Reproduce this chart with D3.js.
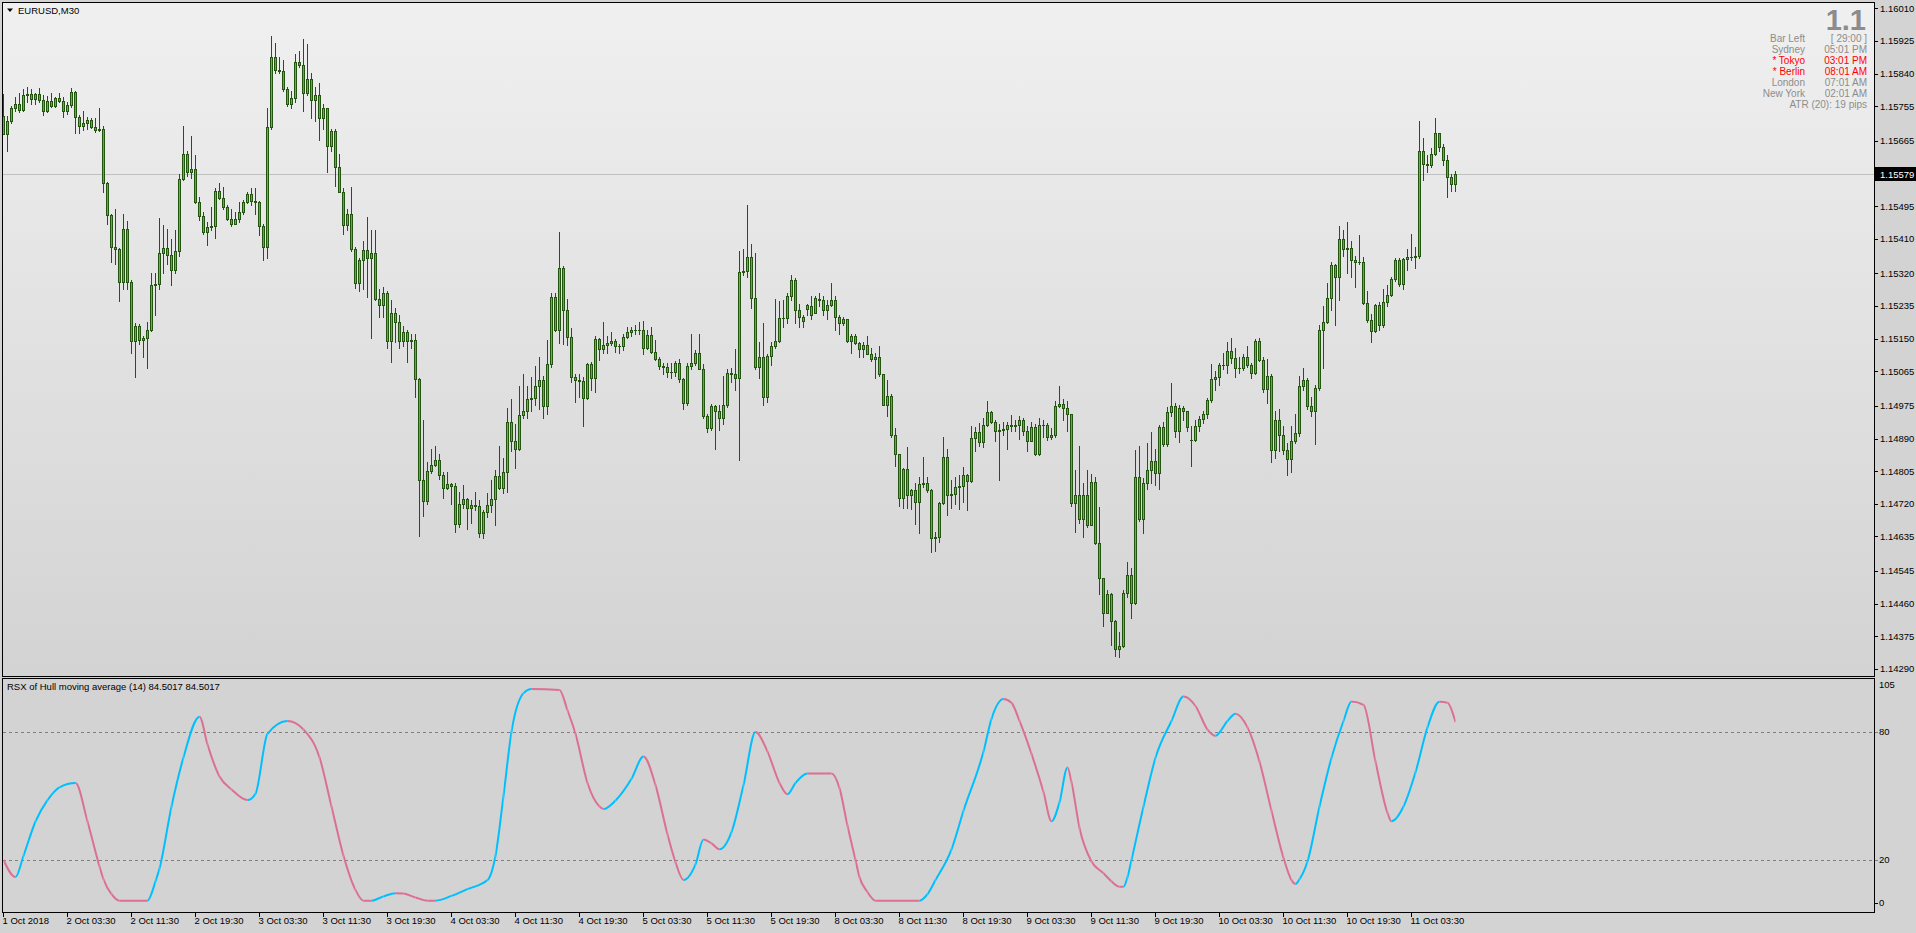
<!DOCTYPE html>
<html><head><meta charset="utf-8">
<script src="https://cdn.jsdelivr.net/npm/d3@7"></script>
<style>
html,body{margin:0;padding:0;background:#d3d3d3;overflow:hidden}
svg{display:block}
text{font-family:"Liberation Sans",Arial,sans-serif}
</style></head><body>
<svg id="c" width="1916" height="933"></svg>
<script>
// ---------------- DATA ----------------
const symbolTitle = "EURUSD,M30";
const opens = [
1.15730,1.15684,1.15717,1.15750,1.15761,1.15746,1.15785,1.15787,1.15775,1.15787,
1.15772,1.15744,1.15769,1.15757,1.15776,1.15770,1.15744,1.15758,1.15792,1.15728,
1.15705,1.15711,1.15720,1.15702,1.15694,1.15696,1.15555,1.15472,1.15390,1.15383,
1.15297,1.15437,1.15297,1.15144,1.15182,1.15147,1.15153,1.15172,1.15290,1.15292,
1.15372,1.15385,1.15368,1.15328,1.15379,1.15566,1.15631,1.15585,1.15593,1.15505,
1.15470,1.15427,1.15440,1.15443,1.15535,1.15517,1.15494,1.15463,1.15449,1.15463,
1.15479,1.15506,1.15527,1.15509,1.15505,1.15443,1.15390,1.15701,1.15884,1.15851,
1.15846,1.15801,1.15761,1.15777,1.15870,1.15862,1.15791,1.15827,1.15772,1.15785,
1.15725,1.15750,1.15651,1.15690,1.15596,1.15533,1.15445,1.15476,1.15383,1.15295,
1.15355,1.15380,1.15361,1.15372,1.15254,1.15237,1.15268,1.15145,1.15218,1.15193,
1.15145,1.15167,1.15145,1.15147,1.15045,1.14782,1.14727,1.14805,1.14820,1.14835,
1.14796,1.14761,1.14771,1.14766,1.14667,1.14720,1.14733,1.14709,1.14717,1.14714,
1.14643,1.14698,1.14717,1.14733,1.14793,1.14761,1.14802,1.14933,1.14884,1.14862,
1.14952,1.14963,1.14994,1.14996,1.15026,1.15043,1.14974,1.15083,1.15259,1.15174,
1.15335,1.15224,1.15155,1.15051,1.15043,1.15040,1.14996,1.15083,1.15048,1.15149,
1.15123,1.15134,1.15140,1.15144,1.15132,1.15131,1.15155,1.15167,1.15173,1.15172,
1.15174,1.15127,1.15160,1.15116,1.15097,1.15079,1.15076,1.15064,1.15063,1.15087,
1.15045,1.14983,1.15079,1.15087,1.15114,1.15072,1.14950,1.14917,1.14974,1.14961,
1.14943,1.14977,1.15061,1.15059,1.15048,1.15324,1.15326,1.15363,1.15256,1.15076,
1.15103,1.14999,1.15106,1.15131,1.15145,1.15205,1.15204,1.15262,1.15303,1.15226,
1.15207,1.15228,1.15235,1.15218,1.15254,1.15251,1.15226,1.15239,1.15251,1.15206,
1.15191,1.15202,1.15144,1.15156,1.15138,1.15122,1.15134,1.15111,1.15096,1.15103,
1.15057,1.14978,1.15002,1.14900,1.14849,1.14736,1.14811,1.14742,1.14755,1.14725,
1.14771,1.14774,1.14755,1.14630,1.14634,1.14722,1.14843,1.14742,1.14745,1.14763,
1.14766,1.14794,1.14779,1.14892,1.14906,1.14882,1.14926,1.14959,1.14933,1.14911,
1.14912,1.14914,1.14925,1.14923,1.14926,1.14938,1.14911,1.14884,1.14919,1.14851,
1.14925,1.14926,1.14895,1.14900,1.14974,1.14980,1.14969,1.14953,1.14722,1.14744,
1.14681,1.14742,1.14665,1.14777,1.14618,1.14526,1.14437,1.14486,1.14415,1.14341,
1.14350,1.14489,1.14535,1.14462,1.14789,1.14681,1.14774,1.14807,1.14832,1.14801,
1.14919,1.14875,1.14959,1.14974,1.14911,1.14969,1.14961,1.14887,1.14885,1.14922,
1.14942,1.14953,1.14990,1.15046,1.15051,1.15081,1.15082,1.15119,1.15100,1.15073,
1.15075,1.15103,1.15081,1.15062,1.15145,1.15094,1.15018,1.15054,1.14860,1.14939,
1.14898,1.14860,1.14837,1.14884,1.14904,1.15026,1.15043,1.14974,1.14963,1.15021,
1.15174,1.15194,1.15257,1.15342,1.15311,1.15410,1.15383,1.15386,1.15355,1.15349,
1.15351,1.15242,1.15199,1.15169,1.15237,1.15185,1.15246,1.15265,1.15306,1.15355,
1.15292,1.15357,1.15363,1.15362,1.15365,1.15640,1.15604,1.15602,1.15631,1.15686,
1.15648,1.15615,1.15572,1.15553];
const highs = [
1.15788,1.15730,1.15755,1.15779,1.15789,1.15800,1.15805,1.15800,1.15791,1.15802,
1.15785,1.15782,1.15789,1.15780,1.15789,1.15780,1.15767,1.15802,1.15794,1.15733,
1.15743,1.15727,1.15725,1.15724,1.15751,1.15704,1.15559,1.15476,1.15489,1.15386,
1.15476,1.15456,1.15302,1.15191,1.15189,1.15158,1.15193,1.15322,1.15322,1.15465,
1.15446,1.15437,1.15410,1.15432,1.15580,1.15704,1.15640,1.15679,1.15629,1.15520,
1.15481,1.15454,1.15492,1.15542,1.15555,1.15544,1.15498,1.15487,1.15481,1.15506,
1.15511,1.15531,1.15542,1.15542,1.15509,1.15449,1.15750,1.15939,1.15920,1.15884,
1.15876,1.15805,1.15794,1.15892,1.15898,1.15931,1.15918,1.15843,1.15805,1.15816,
1.15761,1.15752,1.15695,1.15695,1.15631,1.15542,1.15487,1.15544,1.15388,1.15361,
1.15405,1.15467,1.15434,1.15432,1.15279,1.15284,1.15273,1.15251,1.15229,1.15213,
1.15182,1.15174,1.15163,1.15163,1.15048,1.14939,1.14829,1.14862,1.14871,1.14851,
1.14804,1.14802,1.14774,1.14774,1.14752,1.14769,1.14736,1.14730,1.14752,1.14730,
1.14703,1.14749,1.14782,1.14807,1.14871,1.14840,1.14969,1.14994,1.14928,1.15026,
1.15059,1.15026,1.15051,1.15079,1.15103,1.15054,1.15147,1.15270,1.15268,1.15427,
1.15339,1.15253,1.15177,1.15059,1.15059,1.15051,1.15087,1.15089,1.15156,1.15153,
1.15193,1.15156,1.15167,1.15149,1.15136,1.15163,1.15180,1.15180,1.15185,1.15193,
1.15196,1.15174,1.15180,1.15147,1.15103,1.15087,1.15087,1.15087,1.15092,1.15098,
1.15048,1.15087,1.15163,1.15120,1.15163,1.15083,1.14955,1.14980,1.14977,1.14977,
1.15054,1.15072,1.15074,1.15123,1.15379,1.15383,1.15498,1.15396,1.15372,1.15142,
1.15191,1.15109,1.15142,1.15254,1.15248,1.15251,1.15268,1.15317,1.15309,1.15240,
1.15213,1.15240,1.15262,1.15262,1.15268,1.15262,1.15251,1.15295,1.15262,1.15213,
1.15207,1.15202,1.15163,1.15163,1.15142,1.15142,1.15158,1.15125,1.15114,1.15131,
1.15059,1.15043,1.15007,1.14917,1.14851,1.14813,1.14868,1.14758,1.14774,1.14791,
1.14842,1.14791,1.14758,1.14648,1.14725,1.14893,1.14862,1.14783,1.14791,1.14796,
1.14816,1.14799,1.14922,1.14919,1.14930,1.14944,1.14988,1.14963,1.14939,1.14928,
1.14933,1.14933,1.14952,1.14939,1.14950,1.14944,1.14922,1.14933,1.14928,1.14944,
1.14939,1.14930,1.14917,1.14988,1.15026,1.14994,1.14988,1.14955,1.14809,1.14871,
1.14774,1.14807,1.14799,1.14791,1.14712,1.14528,1.14495,1.14489,1.14418,1.14385,
1.14495,1.14568,1.14553,1.14860,1.14871,1.14788,1.14879,1.14906,1.14862,1.14926,
1.14933,1.14972,1.15035,1.14983,1.14977,1.14974,1.14963,1.14922,1.14939,1.14950,
1.14961,1.14996,1.15083,1.15065,1.15087,1.15114,1.15142,1.15153,1.15125,1.15103,
1.15109,1.15131,1.15087,1.15149,1.15153,1.15103,1.15098,1.15059,1.14961,1.14966,
1.14922,1.14879,1.14922,1.14955,1.15054,1.15073,1.15048,1.14999,1.15029,1.15185,
1.15235,1.15295,1.15350,1.15344,1.15443,1.15432,1.15454,1.15405,1.15366,1.15419,
1.15364,1.15273,1.15215,1.15240,1.15246,1.15279,1.15290,1.15311,1.15361,1.15361,
1.15361,1.15383,1.15423,1.15388,1.15717,1.15673,1.15629,1.15646,1.15726,1.15686,
1.15657,1.15629,1.15580,1.15588];
const lows = [
1.15682,1.15640,1.15713,1.15744,1.15741,1.15744,1.15767,1.15761,1.15761,1.15767,
1.15733,1.15740,1.15754,1.15754,1.15767,1.15727,1.15735,1.15754,1.15687,1.15687,
1.15694,1.15696,1.15699,1.15689,1.15691,1.15533,1.15448,1.15350,1.15344,1.15248,
1.15279,1.15279,1.15114,1.15051,1.15136,1.15103,1.15075,1.15169,1.15213,1.15279,
1.15322,1.15344,1.15290,1.15322,1.15366,1.15564,1.15574,1.15569,1.15503,1.15459,
1.15423,1.15394,1.15432,1.15412,1.15514,1.15487,1.15459,1.15443,1.15449,1.15454,
1.15476,1.15503,1.15498,1.15476,1.15421,1.15355,1.15361,1.15695,1.15843,1.15843,
1.15794,1.15755,1.15750,1.15766,1.15857,1.15744,1.15785,1.15725,1.15717,1.15668,
1.15695,1.15585,1.15640,1.15547,1.15531,1.15423,1.15432,1.15379,1.15281,1.15273,
1.15279,1.15259,1.15153,1.15251,1.15207,1.15207,1.15127,1.15090,1.15142,1.15125,
1.15131,1.15090,1.15125,1.14999,1.14637,1.14689,1.14720,1.14800,1.14818,1.14785,
1.14736,1.14758,1.14720,1.14648,1.14659,1.14709,1.14654,1.14670,1.14703,1.14634,
1.14630,1.14687,1.14698,1.14665,1.14758,1.14747,1.14752,1.14857,1.14813,1.14860,
1.14944,1.14944,1.14961,1.14977,1.14966,1.14944,1.14955,1.15076,1.15169,1.15138,
1.15136,1.15134,1.15037,1.14985,1.14999,1.14922,1.14994,1.15016,1.15010,1.15094,
1.15114,1.15114,1.15134,1.15116,1.15114,1.15120,1.15153,1.15158,1.15163,1.15163,
1.15109,1.15123,1.15114,1.15094,1.15070,1.15059,1.15051,1.15048,1.15054,1.15037,
1.14966,1.14977,1.15070,1.15081,1.15070,1.14944,1.14908,1.14912,1.14864,1.14912,
1.14928,1.14972,1.15037,1.15016,1.14835,1.15317,1.15311,1.15229,1.15072,1.15048,
1.14977,1.14985,1.15081,1.15125,1.15142,1.15180,1.15191,1.15251,1.15191,1.15180,
1.15180,1.15213,1.15202,1.15216,1.15235,1.15213,1.15202,1.15235,1.15174,1.15163,
1.15185,1.15142,1.15114,1.15136,1.15103,1.15103,1.15109,1.15092,1.15048,1.15054,
1.14977,1.14948,1.14895,1.14818,1.14714,1.14709,1.14709,1.14706,1.14667,1.14645,
1.14763,1.14750,1.14594,1.14597,1.14621,1.14720,1.14692,1.14709,1.14720,1.14706,
1.14725,1.14705,1.14777,1.14857,1.14871,1.14868,1.14922,1.14930,1.14884,1.14782,
1.14900,1.14862,1.14911,1.14911,1.14890,1.14900,1.14857,1.14884,1.14846,1.14846,
1.14895,1.14886,1.14889,1.14895,1.14972,1.14939,1.14911,1.14714,1.14648,1.14670,
1.14634,1.14659,1.14665,1.14615,1.14484,1.14402,1.14435,1.14352,1.14325,1.14320,
1.14347,1.14478,1.14424,1.14459,1.14676,1.14643,1.14758,1.14774,1.14769,1.14758,
1.14871,1.14871,1.14950,1.14895,1.14881,1.14939,1.14911,1.14818,1.14884,1.14911,
1.14930,1.14944,1.14985,1.15016,1.15029,1.15070,1.15062,1.15087,1.15051,1.15062,
1.15068,1.15076,1.15048,1.15059,1.15092,1.15010,1.14983,1.14829,1.14840,1.14857,
1.14851,1.14796,1.14802,1.14879,1.14897,1.15016,1.14966,1.14950,1.14875,1.15016,
1.15073,1.15191,1.15224,1.15185,1.15251,1.15366,1.15322,1.15311,1.15284,1.15344,
1.15240,1.15193,1.15142,1.15167,1.15174,1.15180,1.15235,1.15262,1.15300,1.15287,
1.15279,1.15330,1.15355,1.15333,1.15361,1.15564,1.15585,1.15596,1.15629,1.15640,
1.15602,1.15520,1.15536,1.15536];
const closes = [
1.15684,1.15717,1.15750,1.15761,1.15746,1.15785,1.15787,1.15775,1.15787,1.15772,
1.15744,1.15769,1.15757,1.15776,1.15770,1.15744,1.15758,1.15792,1.15728,1.15705,
1.15711,1.15720,1.15702,1.15694,1.15696,1.15555,1.15472,1.15390,1.15383,1.15297,
1.15437,1.15297,1.15144,1.15182,1.15147,1.15153,1.15172,1.15290,1.15292,1.15372,
1.15385,1.15368,1.15328,1.15379,1.15566,1.15631,1.15585,1.15593,1.15505,1.15470,
1.15427,1.15440,1.15443,1.15535,1.15517,1.15494,1.15463,1.15449,1.15463,1.15479,
1.15506,1.15527,1.15509,1.15505,1.15443,1.15390,1.15701,1.15884,1.15851,1.15846,
1.15801,1.15761,1.15777,1.15870,1.15862,1.15791,1.15827,1.15772,1.15785,1.15725,
1.15750,1.15651,1.15690,1.15596,1.15533,1.15445,1.15476,1.15383,1.15295,1.15355,
1.15380,1.15361,1.15372,1.15254,1.15237,1.15268,1.15145,1.15218,1.15193,1.15145,
1.15167,1.15145,1.15147,1.15045,1.14782,1.14727,1.14805,1.14820,1.14835,1.14796,
1.14761,1.14771,1.14766,1.14667,1.14720,1.14733,1.14709,1.14717,1.14714,1.14643,
1.14698,1.14717,1.14733,1.14793,1.14761,1.14802,1.14933,1.14884,1.14862,1.14952,
1.14963,1.14994,1.14996,1.15026,1.15043,1.14974,1.15083,1.15259,1.15174,1.15335,
1.15224,1.15155,1.15051,1.15043,1.15040,1.14996,1.15083,1.15048,1.15149,1.15123,
1.15134,1.15140,1.15144,1.15132,1.15131,1.15155,1.15167,1.15173,1.15172,1.15174,
1.15127,1.15160,1.15116,1.15097,1.15079,1.15076,1.15064,1.15063,1.15087,1.15045,
1.14983,1.15079,1.15087,1.15114,1.15072,1.14950,1.14917,1.14974,1.14961,1.14943,
1.14977,1.15061,1.15059,1.15048,1.15324,1.15326,1.15363,1.15256,1.15076,1.15103,
1.14999,1.15106,1.15131,1.15145,1.15205,1.15204,1.15262,1.15303,1.15226,1.15207,
1.15195,1.15237,1.15213,1.15257,1.15251,1.15226,1.15239,1.15251,1.15206,1.15191,
1.15202,1.15144,1.15156,1.15138,1.15122,1.15134,1.15111,1.15096,1.15103,1.15057,
1.14978,1.15002,1.14900,1.14849,1.14736,1.14811,1.14742,1.14755,1.14725,1.14771,
1.14774,1.14755,1.14630,1.14634,1.14722,1.14843,1.14742,1.14745,1.14763,1.14766,
1.14794,1.14779,1.14892,1.14906,1.14882,1.14926,1.14959,1.14933,1.14911,1.14912,
1.14914,1.14925,1.14923,1.14926,1.14938,1.14911,1.14884,1.14919,1.14851,1.14925,
1.14926,1.14895,1.14900,1.14974,1.14980,1.14969,1.14953,1.14722,1.14744,1.14681,
1.14742,1.14665,1.14777,1.14618,1.14526,1.14437,1.14486,1.14415,1.14341,1.14350,
1.14489,1.14535,1.14462,1.14789,1.14681,1.14774,1.14807,1.14832,1.14801,1.14919,
1.14875,1.14959,1.14974,1.14911,1.14969,1.14961,1.14919,1.14885,1.14922,1.14942,
1.14953,1.14990,1.15046,1.15051,1.15081,1.15082,1.15119,1.15100,1.15073,1.15075,
1.15103,1.15081,1.15062,1.15145,1.15094,1.15018,1.15054,1.14860,1.14939,1.14898,
1.14860,1.14837,1.14884,1.14904,1.15026,1.15043,1.14974,1.14963,1.15021,1.15174,
1.15194,1.15257,1.15342,1.15311,1.15410,1.15383,1.15386,1.15355,1.15349,1.15351,
1.15242,1.15199,1.15169,1.15237,1.15185,1.15246,1.15265,1.15306,1.15355,1.15292,
1.15357,1.15363,1.15362,1.15365,1.15640,1.15604,1.15602,1.15631,1.15686,1.15648,
1.15615,1.15572,1.15553,1.15579];

const timeTickBars = [0,16,32,48,64,80,96,112,128,144,160,176,192,208,224,240,256,272,288,304,320,336,352];
const timeTickLabels = ["1 Oct 2018","2 Oct 03:30","2 Oct 11:30","2 Oct 19:30","3 Oct 03:30","3 Oct 11:30",
  "3 Oct 19:30","4 Oct 03:30","4 Oct 11:30","4 Oct 19:30","5 Oct 03:30","5 Oct 11:30","5 Oct 19:30",
  "8 Oct 03:30","8 Oct 11:30","8 Oct 19:30","9 Oct 03:30","9 Oct 11:30","9 Oct 19:30","10 Oct 03:30",
  "10 Oct 11:30","10 Oct 19:30","11 Oct 03:30"];
const priceTickValues = [1.16010,1.15925,1.15840,1.15755,1.15665,1.15495,1.15410,1.15320,1.15235,1.15150,
  1.15065,1.14975,1.14890,1.14805,1.14720,1.14635,1.14545,1.14460,1.14375,1.14290];
const lastPrice = 1.15579;

const rsxBars = [0,3,5,8,11,14,18,21,24,25,27,29,36,38,39,42,45,49,51,54,57,61,63,66,71,75,79,82,85,88,
  90,92,95,98,100,103,106,108,112,116,121,123,125,127,130,132,139,141,143,146,149,150,153,157,160,163,166,168,170,173,
  175,177,179,182,185,188,191,194,196,198,201,207,209,211,213,214,216,218,229,231,233,237,240,245,247,250,252,254,257,260,
  262,264,266,267,269,272,275,277,279,280,281,282,285,288,292,295,298,301,303,306,308,311,314,317,320,322,323,324,326,329,
  332,335,337,340,343,346,347,350,353,356,359,361,363];
const rsxValues = [20,12,22,38,48,54,56,38,17,11,4,1,1,10,16,45,68,87,74,59,53,48,51,79,85,81,68,45,22,6,
  1,1,3,4.5,4.3,2.5,1,1,3.2,6.4,10.6,22,50,80,98,100,99.5,90,79,56,45,43.8,47.8,58,68.4,55,32,19,10.7,18,
  29.6,27.8,25,33,55,79.8,70.7,56,50.7,56,60.4,60.4,53.6,36,20,12,5,1,1,4,10.6,25,43,70.7,86,95.3,93.5,85,69.6,51.8,
  38.1,47,63.3,56.4,35,19.3,13.8,10,7.5,7.5,12,20,45,67.8,85,96.4,92,81,78.1,85,88.4,82,66,43,21,10.6,8.8,11,19.3,45,
  67.8,85,94.1,92.5,66,42,38.1,45,61,82,94,93.5,84.5];
const rsxLevels = [80, 20];
const rsxAxisLabels = [105, 80, 20, 0];
const rsxTitle = "RSX of Hull moving average (14) 84.5017 84.5017";

const infoLabels = ["Bar Left","Sydney","* Tokyo","* Berlin","London","New York"];
const infoValues = ["[ 29:00 ]","05:01 PM","03:01 PM","08:01 AM","07:01 AM","02:01 AM"];
const infoHighlight = [false,false,true,true,false,false];
const atrText = "ATR (20): 19 pips";
const bigLabel = "1.1";

// ---------------- LAYOUT ----------------
const svg = d3.select("#c");
const MAIN = {l:2, t:2, r:1874, b:676};
const SUB = {l:2, t:678, r:1874, b:912};
const x = d3.scaleLinear().domain([0, 467]).range([3.5, 3.5 + 467 * 4]);
const y = d3.scaleLinear().domain([1.142717, 1.160269]).range([MAIN.b, MAIN.t]);
const yr = d3.scaleLinear().domain([-4.5, 105]).range([912.4, 678.2]);

const defs = svg.append("defs");
const grad = defs.append("linearGradient").attr("id","mainBg").attr("x1",0).attr("y1",0).attr("x2",0).attr("y2",1);
grad.append("stop").attr("offset","0%").attr("stop-color","#f0f0f0");
grad.append("stop").attr("offset","100%").attr("stop-color","#d3d3d3");
defs.append("clipPath").attr("id","clipMain").append("rect")
  .attr("x",MAIN.l+1).attr("y",MAIN.t+1).attr("width",MAIN.r-MAIN.l-1).attr("height",MAIN.b-MAIN.t-1);
defs.append("clipPath").attr("id","clipSub").append("rect")
  .attr("x",SUB.l+1).attr("y",SUB.t+1).attr("width",SUB.r-SUB.l-1).attr("height",SUB.b-SUB.t-1);

svg.append("rect").attr("width",1916).attr("height",933).attr("fill","#d3d3d3");
svg.append("rect").attr("x",MAIN.l).attr("y",MAIN.t).attr("width",MAIN.r-MAIN.l).attr("height",MAIN.b-MAIN.t).attr("fill","url(#mainBg)");
svg.append("rect").attr("x",SUB.l).attr("y",SUB.t).attr("width",SUB.r-SUB.l).attr("height",SUB.b-SUB.t).attr("fill","#d3d3d3");

// current price line
const gMain = svg.append("g").attr("clip-path","url(#clipMain)");
const yLast = Math.round(y(lastPrice)) + 0.5;
gMain.append("line").attr("x1",MAIN.l).attr("x2",MAIN.r).attr("y1",yLast).attr("y2",yLast)
  .attr("stroke","#c0c0c0").attr("stroke-width",1);

// candles
const WICK = "#22560f", BULL = "#3ccf2e", BEAR = "#e26a4c";
const idx = d3.range(opens.length);
gMain.selectAll("line.wick").data(idx).join("line").attr("class","wick")
  .attr("x1",i=>x(i)).attr("x2",i=>x(i))
  .attr("y1",i=>Math.round(y(highs[i]))).attr("y2",i=>Math.round(y(lows[i]))+1)
  .attr("stroke",WICK).attr("stroke-width",1);
const bodies = idx.map(i => {
  const top = Math.round(y(Math.max(opens[i],closes[i])));
  const bot = Math.round(y(Math.min(opens[i],closes[i])));
  return {i, top, bot, bull: closes[i] >= opens[i]};
});
gMain.selectAll("rect.body").data(bodies.filter(d=>d.bot-d.top>=1)).join("rect").attr("class","body")
  .attr("x",d=>x(d.i)-1).attr("width",2)
  .attr("y",d=>d.top+0.5).attr("height",d=>d.bot-d.top)
  .attr("fill",d=>d.bull?BULL:BEAR).attr("stroke",WICK).attr("stroke-width",1);
gMain.selectAll("line.doji").data(bodies.filter(d=>d.bot-d.top<1)).join("line").attr("class","doji")
  .attr("x1",d=>x(d.i)-1.5).attr("x2",d=>x(d.i)+1.5)
  .attr("y1",d=>d.top+0.5).attr("y2",d=>d.top+0.5)
  .attr("stroke",WICK).attr("stroke-width",1);

// borders
svg.append("rect").attr("x",MAIN.l+0.5).attr("y",MAIN.t+0.5).attr("width",MAIN.r-MAIN.l).attr("height",MAIN.b-MAIN.t)
  .attr("fill","none").attr("stroke","#000");
svg.append("rect").attr("x",SUB.l+0.5).attr("y",SUB.t+0.5).attr("width",SUB.r-SUB.l).attr("height",SUB.b-SUB.t)
  .attr("fill","none").attr("stroke","#000");

// price axis
const axFont = 9.5;
const gPA = svg.append("g");
gPA.selectAll("line").data(priceTickValues).join("line")
  .attr("x1",MAIN.r+1).attr("x2",MAIN.r+4).attr("y1",d=>Math.round(y(d))+0.5).attr("y2",d=>Math.round(y(d))+0.5)
  .attr("stroke","#000");
gPA.selectAll("text").data(priceTickValues).join("text")
  .attr("x",1880).attr("y",d=>y(d)).attr("dy","0.35em")
  .attr("font-size",axFont).attr("fill","#000").text(d=>d.toFixed(5));
svg.append("rect").attr("x",MAIN.r+1).attr("y",yLast-7.5).attr("width",1916-MAIN.r-1).attr("height",14).attr("fill","#000");
svg.append("text").attr("x",1880).attr("y",yLast).attr("dy","0.35em").attr("font-size",axFont)
  .attr("fill","#fff").text(lastPrice.toFixed(5));

// titles
svg.append("path").attr("d","M7,8.5 L13,8.5 L10,12 Z").attr("fill","#000");
svg.append("text").attr("x",18).attr("y",14).attr("font-size",axFont).attr("fill","#000").text(symbolTitle);

// info panel
const infoY = [38.7, 49.6, 60.5, 71.4, 82.3, 93.2];
const gInfo = svg.append("g").attr("font-size",10);
gInfo.selectAll("text.lab").data(infoLabels).join("text").attr("class","lab")
  .attr("x",1805).attr("y",(d,i)=>infoY[i]).attr("dy","0.35em").attr("text-anchor","end")
  .attr("fill",(d,i)=>infoHighlight[i]?"#ff0000":"#8c8c8c").text(d=>d);
gInfo.selectAll("text.val").data(infoValues).join("text").attr("class","val")
  .attr("x",1867).attr("y",(d,i)=>infoY[i]).attr("dy","0.35em").attr("text-anchor","end")
  .attr("fill",(d,i)=>infoHighlight[i]?"#ff0000":"#8c8c8c").text(d=>d);
gInfo.append("text").attr("x",1867).attr("y",104.5).attr("dy","0.35em").attr("text-anchor","end")
  .attr("fill","#8c8c8c").text(atrText);
svg.append("text").attr("x",1866).attr("y",30).attr("text-anchor","end").attr("font-size",29)
  .attr("font-weight","bold").attr("fill","#8c8c8c").text(bigLabel);

// time axis
const gTA = svg.append("g");
gTA.selectAll("line").data(timeTickBars).join("line")
  .attr("x1",d=>x(d)).attr("x2",d=>x(d)).attr("y1",SUB.b+1).attr("y2",SUB.b+5).attr("stroke","#000");
gTA.selectAll("text").data(timeTickBars).join("text")
  .attr("x",d=>x(d)-1).attr("y",924).attr("font-size",axFont).attr("fill","#000")
  .text((d,i)=>timeTickLabels[i]);

// RSX sub window
const gSub = svg.append("g");
gSub.selectAll("line.lvl").data(rsxLevels).join("line").attr("class","lvl")
  .attr("x1",SUB.l+1).attr("x2",MAIN.r+4).attr("y1",d=>Math.round(yr(d))+0.5).attr("y2",d=>Math.round(yr(d))+0.5)
  .attr("stroke","#808080").attr("stroke-dasharray","3,3");
gSub.append("line").attr("x1",MAIN.r+1).attr("x2",MAIN.r+4).attr("y1",Math.round(yr(0))+0.5).attr("y2",Math.round(yr(0))+0.5).attr("stroke","#000");
gSub.selectAll("text").data(rsxAxisLabels).join("text")
  .attr("x",1879).attr("y",d=>Math.max(yr(d),685)).attr("dy","0.35em")
  .attr("font-size",axFont).attr("fill","#000").text(d=>d);
svg.append("text").attr("x",7).attr("y",690).attr("font-size",axFont).attr("fill","#000").text(rsxTitle);

const rsxPts = rsxBars.map((b,k)=>[b, rsxValues[k]]);
const line = d3.line().x(d=>x(d[0])).y(d=>yr(d[1])).curve(d3.curveMonotoneX);
const rising = [];
for (let k=0;k<rsxPts.length-1;k++) if (rsxPts[k+1][1] > rsxPts[k][1]) rising.push([rsxPts[k][0], rsxPts[k+1][0]]);
const cpR = defs.append("clipPath").attr("id","clipRise");
cpR.selectAll("rect").data(rising).join("rect")
  .attr("x",d=>x(d[0])).attr("width",d=>x(d[1])-x(d[0])).attr("y",SUB.t).attr("height",SUB.b-SUB.t);
const cpF = defs.append("clipPath").attr("id","clipFall");
const falling = [];
for (let k=0;k<rsxPts.length-1;k++) if (!(rsxPts[k+1][1] > rsxPts[k][1])) falling.push([rsxPts[k][0], rsxPts[k+1][0]]);
cpF.selectAll("rect").data(falling).join("rect")
  .attr("x",d=>x(d[0])).attr("width",d=>x(d[1])-x(d[0])).attr("y",SUB.t).attr("height",SUB.b-SUB.t);
const gR = gSub.append("g").attr("clip-path","url(#clipSub)");
gR.append("g").attr("clip-path","url(#clipFall)").append("path").datum(rsxPts).attr("d",line)
  .attr("fill","none").attr("stroke","#db7093").attr("stroke-width",2);
gR.append("g").attr("clip-path","url(#clipRise)").append("path").datum(rsxPts).attr("d",line)
  .attr("fill","none").attr("stroke","#00bfff").attr("stroke-width",2);
</script>
</body></html>
